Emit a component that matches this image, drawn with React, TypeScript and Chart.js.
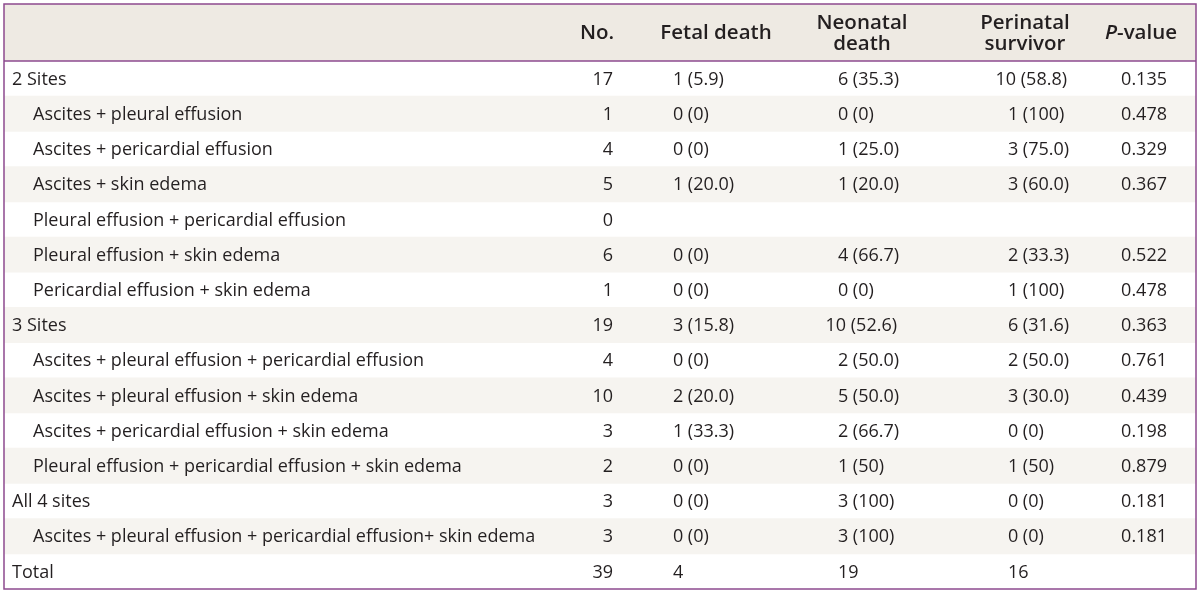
import React, { useEffect, useRef } from "react";
import { Chart, registerables } from "chart.js";

Chart.register(...registerables);

// ---------- data ----------
const headerLabels = [["No."], ["Fetal death"], ["Neonatal", "death"], ["Perinatal", "survivor"], ["P-value"]];

const rowLabels = [
  "2 Sites",
  "Ascites + pleural effusion",
  "Ascites + pericardial effusion",
  "Ascites + skin edema",
  "Pleural effusion + pericardial effusion",
  "Pleural effusion + skin edema",
  "Pericardial effusion + skin edema",
  "3 Sites",
  "Ascites + pleural effusion + pericardial effusion",
  "Ascites + pleural effusion + skin edema",
  "Ascites + pericardial effusion + skin edema",
  "Pleural effusion + pericardial effusion + skin edema",
  "All 4 sites",
  "Ascites + pleural effusion + pericardial effusion+ skin edema",
  "Total",
];

// 0 = group row, 1 = sub-item of the group above
const rowLevels = [0, 1, 1, 1, 1, 1, 1, 0, 1, 1, 1, 1, 0, 1, 0];

const noValues = ["17", "1", "4", "5", "0", "6", "1", "19", "4", "10", "3", "2", "3", "3", "39"];
const fetalDeath = ["1 (5.9)", "0 (0)", "0 (0)", "1 (20.0)", "", "0 (0)", "0 (0)", "3 (15.8)", "0 (0)", "2 (20.0)", "1 (33.3)", "0 (0)", "0 (0)", "0 (0)", "4"];
const neonatalDeath = ["6 (35.3)", "0 (0)", "1 (25.0)", "1 (20.0)", "", "4 (66.7)", "0 (0)", "10 (52.6)", "2 (50.0)", "5 (50.0)", "2 (66.7)", "1 (50)", "3 (100)", "3 (100)", "19"];
const perinatalSurvivor = ["10 (58.8)", "1 (100)", "3 (75.0)", "3 (60.0)", "", "2 (33.3)", "1 (100)", "6 (31.6)", "2 (50.0)", "3 (30.0)", "0 (0)", "1 (50)", "0 (0)", "0 (0)", "16"];
const pValues = ["0.135", "0.478", "0.329", "0.367", "", "0.522", "0.478", "0.363", "0.761", "0.439", "0.198", "0.879", "0.181", "0.181", ""];

// ---------- layout / style ----------
const TABLE_W = 1192;
const HEADER_H = 57;
const FONT = "'Open Sans', 'Noto Sans', sans-serif";
const BODY_FONT = `400 18px ${FONT}`;
const HEAD_FONT = `600 20.5px ${FONT}`;
const TEXT_COLOR = "#231f20";
const BORDER = "#8d4a8f";
const HEAD_BG = "#eeeae3";
const STRIPE = "#f6f4f0";

// column anchors in table units: [x, align]
const colAnchors: { x: number; align: CanvasTextAlign }[] = [
  { x: 609, align: "right" },
  { x: 669, align: "left" },
  { x: 834, align: "left" },
  { x: 1004, align: "left" },
  { x: 1163, align: "right" },
];
const headCenters = [593, 712, 858, 1021, 1137];
const labelX = [8, 29];

const columns = [noValues, fetalDeath, neonatalDeath, perinatalSurvivor, pValues];

const tablePlugin = {
  id: "tableDraw",
  beforeDatasetsDraw(chart: any) {
    const { ctx, chartArea } = chart;
    const x = chart.scales.x;
    ctx.save();
    ctx.fillStyle = HEAD_BG;
    const l = x.getPixelForValue(0);
    const r = x.getPixelForValue(TABLE_W);
    ctx.fillRect(l, chartArea.top - HEADER_H, r - l, HEADER_H);
    ctx.restore();
  },
  afterDatasetsDraw(chart: any) {
    const { ctx, chartArea } = chart;
    const x = chart.scales.x;
    const y = chart.scales.y;
    const l = x.getPixelForValue(0);
    const r = x.getPixelForValue(TABLE_W);
    const top = chartArea.top - HEADER_H;
    ctx.save();
    ctx.fillStyle = TEXT_COLOR;
    ctx.textBaseline = "middle";

    // header
    ctx.font = HEAD_FONT;
    ctx.textAlign = "center";
    headerLabels.forEach((lines, i) => {
      const cx = x.getPixelForValue(headCenters[i]);
      const mid = top + HEADER_H / 2 + 1;
      const lh = 21;
      lines.forEach((line, j) => {
        const ly = mid + (j - (lines.length - 1) / 2) * lh;
        if (line.startsWith("P-")) {
          const rest = line.slice(1);
          ctx.font = `italic ${HEAD_FONT}`;
          const w1 = ctx.measureText("P").width;
          ctx.font = HEAD_FONT;
          const w2 = ctx.measureText(rest).width;
          const sx = cx - (w1 + w2) / 2;
          ctx.textAlign = "left";
          ctx.font = `italic ${HEAD_FONT}`;
          ctx.fillText("P", sx, ly);
          ctx.font = HEAD_FONT;
          ctx.fillText(rest, sx + w1, ly);
          ctx.textAlign = "center";
        } else {
          ctx.fillText(line, cx, ly);
        }
      });
    });

    // body
    ctx.font = BODY_FONT;
    const digitW = ctx.measureText("0").width;
    rowLabels.forEach((label, i) => {
      const py = y.getPixelForValue(i) + 1;
      ctx.textAlign = "left";
      ctx.fillText(label, x.getPixelForValue(labelX[rowLevels[i]]), py);
      columns.forEach((col, c) => {
        const a = colAnchors[c];
        const text = col[i];
        const ax = x.getPixelForValue(a.x);
        const sp = text.indexOf(" (");
        if (a.align === "left" && sp > 0) {
          // count right-aligned in a one-digit slot, percentage follows
          const count = text.slice(0, sp);
          const rest = text.slice(sp);
          const cEnd = ax + digitW * 0.99 - (count.length > 1 ? digitW * 0.2 : 0);
          ctx.textAlign = "right";
          ctx.fillText(count, cEnd, py);
          ctx.textAlign = "left";
          ctx.fillText(rest, cEnd, py);
        } else {
          ctx.textAlign = a.align;
          ctx.fillText(text, ax, py);
        }
      });
    });

    // borders
    ctx.strokeStyle = BORDER;
    ctx.lineWidth = 1.5;
    ctx.strokeRect(l, top, r - l, chartArea.bottom - top);
    ctx.beginPath();
    ctx.moveTo(l, chartArea.top);
    ctx.lineTo(r, chartArea.top);
    ctx.stroke();
    ctx.restore();
  },
};

export default function App() {
  const ref = useRef<HTMLCanvasElement | null>(null);
  useEffect(() => {
    if (!ref.current) return;
    const chart = new Chart(ref.current, {
      type: "bar",
      data: {
        labels: rowLabels,
        datasets: [
          {
            label: "stripe",
            data: rowLabels.map((_, i) => (i % 2 === 1 ? [0, TABLE_W] : null)) as any,
            backgroundColor: STRIPE,
            borderWidth: 0,
            barPercentage: 1,
            categoryPercentage: 1,
          },
        ],
      },
      options: {
        indexAxis: "y",
        animation: false,
        responsive: false,
        devicePixelRatio: 1,
        layout: { padding: { top: 4 + HEADER_H, left: 4, right: 4, bottom: 6 } },
        plugins: { legend: { display: false }, tooltip: { enabled: false }, title: { display: false } },
        scales: {
          x: { type: "linear", min: 0, max: TABLE_W, display: false },
          y: { type: "category", display: false, offset: true },
        },
      },
      plugins: [tablePlugin],
    });
    return () => chart.destroy();
  }, []);
  return (
    <div style={{ position: "fixed", left: 0, top: 0, width: 1200, height: 595, background: "#fff" }}>
      <canvas ref={ref} width={1200} height={595} />
    </div>
  );
}
